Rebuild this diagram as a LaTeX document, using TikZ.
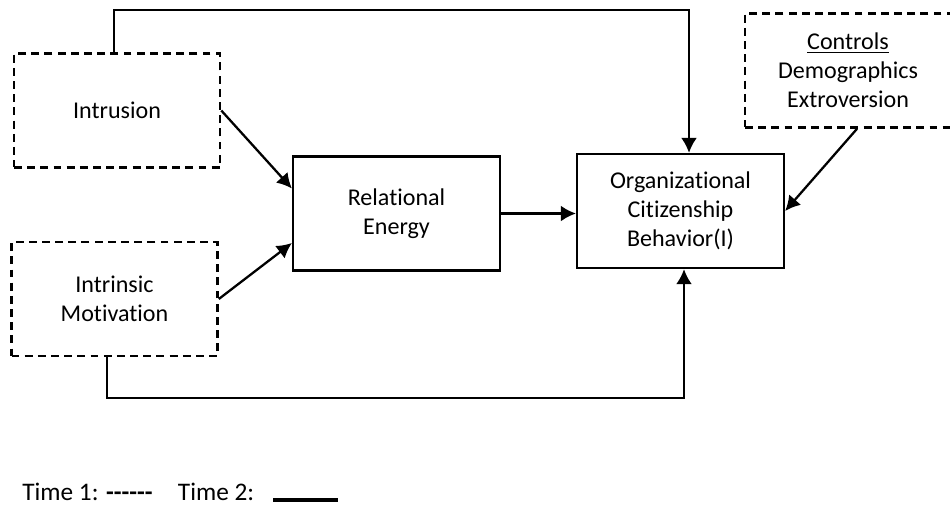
\documentclass[tikz,border=0pt]{standalone}
\usepackage{fontspec}
\setmainfont[Ligatures=NoCommon]{Carlito}
\usetikzlibrary{arrows.meta,positioning}

\begin{document}
\begin{tikzpicture}[x=0.02cm, y=-0.02cm,
every node/.style={align=center,font=\fontsize{13.7}{16.4}\selectfont},
solidbox/.style={draw,line width=1.3pt,minimum width=4.14cm,minimum height=2.28cm},
dashbox/.style={draw,line width=1.5pt,dash pattern=on 4.5pt off 3pt,minimum width=4.12cm,minimum height=2.28cm},
conn/.style={line width=1.3pt,-{Latex[length=8.5pt,width=9pt]}}]
\useasboundingbox (0,0) rectangle (950,508);
\node[dashbox] (intr) at (117,110.5) {Intrusion};
\node[dashbox] (intrin) at (114.5,299) {Intrinsic\\Motivation};
\node[solidbox] (re) at (396.5,213.5) {Relational\\Energy};
\node[solidbox] (ocb) at (680.5,211) {Organizational\\Citizenship\\Behavior(I)};
\node[dashbox] (ctrl) at (848,70.5) {\underline{Controls}\\Demographics\\Extroversion};
\coordinate (topc) at (689,10);
\coordinate (botc) at (684,398);
	\draw[conn] (intr.east) -- ([yshift=0.5cm]re.west);
	\draw[conn] (intrin.east) -- ([yshift=-0.59cm]re.west);
	\draw[conn] (re.east) -- (re.east -| ocb.west);
	\draw[conn] ([xshift=0.18cm]ctrl.south) -- (ocb.east);
	\draw[conn] ([xshift=-0.06cm]intr.north) |- (topc) -- (topc |- ocb.north);
	\draw[conn] ([xshift=-0.15cm]intrin.south) |- (botc) -- (botc |- ocb.south);
\node[anchor=base west,inner sep=0pt,font=\fontsize{14.4}{17}\selectfont] (leg) at (22,500) {Time 1: \textbf{{-}{-}{-}{-}{-}{-}}\hspace{1em}Time 2:};
\coordinate (legA) at (273,500);
\coordinate (legB) at (338,500);
	\draw[line width=2.2pt] (legA) -- (legB);
\end{tikzpicture}
\end{document}
